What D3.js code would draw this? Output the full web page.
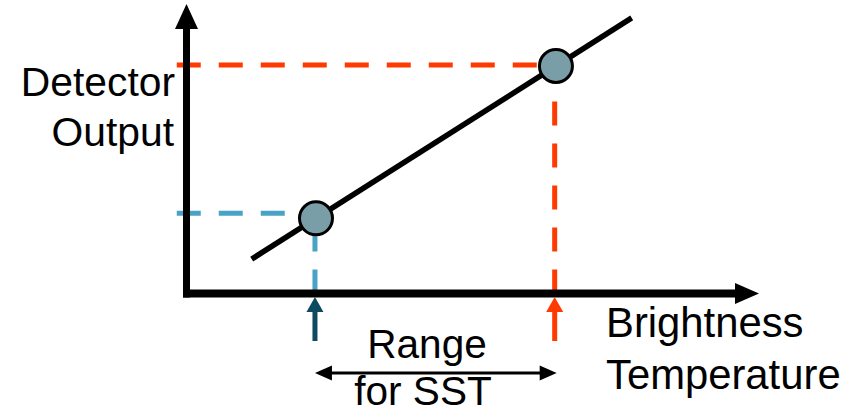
<!DOCTYPE html>
<html><head><meta charset="utf-8">
<script src="https://cdn.jsdelivr.net/npm/d3@7"></script>
<style>html,body{margin:0;padding:0;background:#fff;}svg{display:block;}</style>
</head><body>
<svg id="chart" width="848" height="416"></svg>
<script>
// ---- data (abstract units: brightness temperature vs detector output) ----
const lineT = [1.137, 7.763];
const lineOut = [1.189, 9.519];
const pointT = [2.258, 6.442];
const pointOut = [2.598, 7.858];
const guideNames = ["low", "high"];
const guideT = [2.24, 6.42];
const guideOut = [2.77, 7.89];
const guideColors = ["#4aa3c6", "#ff3a00"];
const arrowColors = ["#0b4a60", "#ff3a00"];
const yLabel = ["Detector", "Output"];
const xLabel = ["Brightness", "Temperature"];
const rangeLabel = ["Range", "for SST"];

const svg = d3.select("#chart");
const x = d3.scaleLinear().domain([0, 10]).range([186.5, 760]);
const y = d3.scaleLinear().domain([0, 10]).range([293.5, 4]);
const font = "'Liberation Sans', Arial, sans-serif";

// guide dashed lines
guideNames.forEach((g, i) => {
  svg.append("line")
    .attr("x1", x(-0.17)).attr("x2", x(pointT[i]))
    .attr("y1", y(guideOut[i])).attr("y2", y(guideOut[i]))
    .attr("stroke", guideColors[i]).attr("stroke-width", 5)
    .attr("stroke-dasharray", "24 18");
  svg.append("line")
    .attr("x1", x(guideT[i])).attr("x2", x(guideT[i]))
    .attr("y1", y(0)).attr("y2", y(pointOut[i]))
    .attr("stroke", guideColors[i]).attr("stroke-width", 5)
    .attr("stroke-dasharray", "24 18");
});

// axes
svg.append("line").attr("x1", x(0)).attr("x2", x(0))
  .attr("y1", y(0) + 4).attr("y2", 28)
  .attr("stroke", "#000").attr("stroke-width", 7);
svg.append("path")
  .attr("d", `M${x(0)-11.5},29 L${x(0)},4 L${x(0)+11.5},29 Z`).attr("fill", "#000");
svg.append("line").attr("x1", x(0) - 3.5).attr("x2", 736)
  .attr("y1", y(0)).attr("y2", y(0))
  .attr("stroke", "#000").attr("stroke-width", 8);
svg.append("path")
  .attr("d", `M735,${y(0)-10.5} L759,${y(0)} L735,${y(0)+10.5} Z`).attr("fill", "#000");

// calibration line
svg.append("line")
  .attr("x1", x(lineT[0])).attr("y1", y(lineOut[0]))
  .attr("x2", x(lineT[1])).attr("y2", y(lineOut[1]))
  .attr("stroke", "#000").attr("stroke-width", 5.5);

// points
svg.selectAll("circle.pt").data(pointT).join("circle")
  .attr("class", "pt")
  .attr("cx", (d) => x(d)).attr("cy", (d, i) => y(pointOut[i]))
  .attr("r", 16.5).attr("fill", "#7a9ea8")
  .attr("stroke", "#000").attr("stroke-width", 3);

// upward arrows below axis
guideT.forEach((t, i) => {
  const cx = x(t);
  svg.append("line").attr("x1", cx).attr("x2", cx)
    .attr("y1", 341).attr("y2", 308)
    .attr("stroke", arrowColors[i]).attr("stroke-width", 5);
  svg.append("path")
    .attr("d", `M${cx-8.5},312 L${cx},297 L${cx+8.5},312 Z`)
    .attr("fill", arrowColors[i]);
});

// double-headed range arrow
const xa = x(guideT[0]), xb = x(guideT[1]), ya = 373;
svg.append("line").attr("x1", xa + 10).attr("x2", xb - 10)
  .attr("y1", ya).attr("y2", ya).attr("stroke", "#000").attr("stroke-width", 3);
svg.append("path").attr("d", `M${xa},${ya} L${xa+17},${ya-7.5} L${xa+17},${ya+7.5} Z`).attr("fill", "#000");
svg.append("path").attr("d", `M${xb+2},${ya} L${xb-15},${ya-7.5} L${xb-15},${ya+7.5} Z`).attr("fill", "#000");

// texts
const txt = (s, tx, ty, anchor, fs) => svg.append("text")
  .attr("x", tx).attr("y", ty).attr("text-anchor", anchor)
  .attr("font-family", font).attr("font-size", fs).attr("fill", "#000").text(s);
txt(yLabel[0], 175, 96, "end", 40.8);
txt(yLabel[1], 174, 146, "end", 40.8);
txt(xLabel[0], 606, 337, "start", 41.8);
txt(xLabel[1], 606, 389, "start", 41.8);
txt(rangeLabel[0], 427, 358, "middle", 40.6);
txt(rangeLabel[1], 423, 405, "middle", 40.6);
</script>
</body></html>
